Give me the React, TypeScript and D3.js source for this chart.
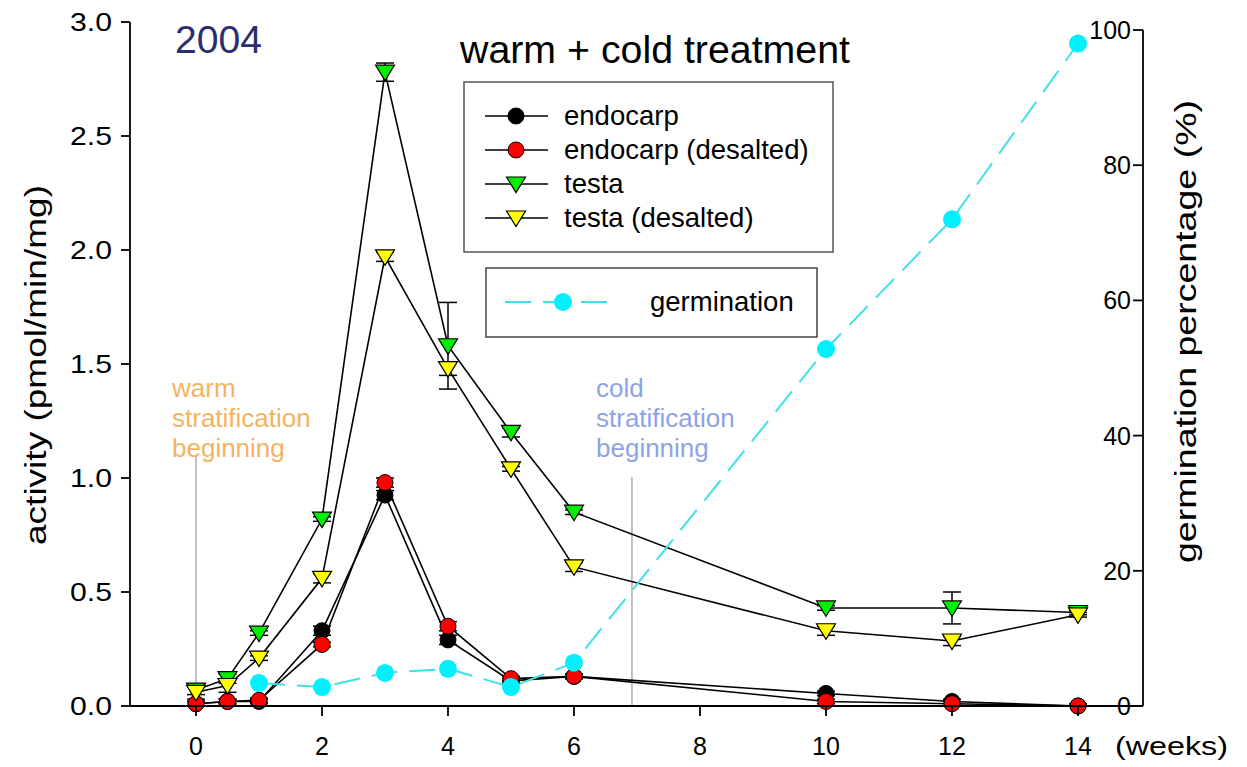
import React from "react";
import * as d3 from "d3";

const weeks = [0, 0.5, 1, 2, 3, 4, 5, 6, 10, 12, 14];
const endocarp = [0.01, 0.02, 0.02, 0.33, 0.925, 0.29, 0.11, 0.13, 0.055, 0.02, 0.0];
const endocarpErr = [0.01, 0.01, 0.01, 0.02, 0.02, 0.02, 0.01, 0.01, 0.01, 0.01, 0.01];
const endocarpDesalted = [0.01, 0.02, 0.025, 0.27, 0.98, 0.35, 0.12, 0.13, 0.02, 0.01, 0.0];
const endocarpDesaltedErr = [0.01, 0.01, 0.01, 0.01, 0.02, 0.02, 0.01, 0.01, 0.01, 0.01, 0.01];
const testa = [0.07, 0.12, 0.32, 0.82, 2.78, 1.58, 1.2, 0.85, 0.43, 0.43, 0.41];
const testaErr = [0.02, 0.02, 0.01, 0.01, 0.04, 0.19, 0.02, 0.01, 0.01, 0.07, 0.01];
const testaDesalted = [0.06, 0.09, 0.21, 0.56, 1.97, 1.48, 1.04, 0.61, 0.33, 0.285, 0.40];
const testaDesaltedErr = [0.03, 0.03, 0.01, 0.02, 0.02, 0.03, 0.01, 0.02, 0.02, 0.02, 0.01];
const germWeeks = [1, 2, 3, 4, 5, 6, 10, 12, 14];
const germination = [3.4, 2.8, 4.9, 5.5, 2.8, 6.4, 52.8, 72, 98];

const xTicks = [0, 2, 4, 6, 8, 10, 12, 14];
const yLeftTicks = [0, 0.5, 1.0, 1.5, 2.0, 2.5, 3.0];
const yRightTicks = [0, 20, 40, 60, 80, 100];

const FONT = "'Liberation Sans', Arial, sans-serif";

export default function App() {
  const x = d3.scaleLinear().domain([0, 14]).range([196, 1078]);
  const yL = d3.scaleLinear().domain([0, 3]).range([706, 22]);
  const yR = d3.scaleLinear().domain([0, 100]).range([706, 30]);
  const line = d3
    .line<[number, number]>()
    .x((d) => x(d[0]))
    .y((d) => yL(d[1]));
  const gLine = d3
    .line<[number, number]>()
    .x((d) => x(d[0]))
    .y((d) => yR(d[1]));

  const tri = (cx: number, cy: number, fill: string, key: string) => (
    <path
      key={key}
      d={`M${cx - 9.5},${cy - 7}L${cx + 9.5},${cy - 7}L${cx},${cy + 8.5}Z`}
      fill={fill}
      stroke="#000"
      strokeWidth={1.2}
    />
  );
  const circ = (cx: number, cy: number, fill: string, key: string) => (
    <circle key={key} cx={cx} cy={cy} r={8} fill={fill} stroke="#000" strokeWidth={1} />
  );

  const errBars = (vals: number[], errs: number[], key: string) =>
    vals.map((v, i) => {
      const cx = x(weeks[i]);
      const y1 = yL(v + errs[i]);
      const y2 = yL(Math.max(0, v - errs[i]));
      return (
        <g key={key + i} stroke="#000" strokeWidth={1.5}>
          <line x1={cx} x2={cx} y1={y1} y2={y2} />
          <line x1={cx - 9} x2={cx + 9} y1={y1} y2={y1} />
          <line x1={cx - 9} x2={cx + 9} y1={y2} y2={y2} />
        </g>
      );
    });

  const series = [
    { vals: endocarp, errs: endocarpErr, fill: "#000000", shape: "c", name: "endocarp" },
    { vals: endocarpDesalted, errs: endocarpDesaltedErr, fill: "#ff0000", shape: "c", name: "endocarp (desalted)" },
    { vals: testa, errs: testaErr, fill: "#00ee00", shape: "t", name: "testa" },
    { vals: testaDesalted, errs: testaDesaltedErr, fill: "#ffff00", shape: "t", name: "testa (desalted)" },
  ];

  const orange = "#f5b35f";
  const blue = "#8ea3e3";

  return (
    <svg
      width={1247}
      height={767}
      style={{ position: "absolute", left: 0, top: 0, background: "#fff" }}
      fontFamily={FONT}
    >
      <rect x={0} y={0} width={1247} height={767} fill="#fff" />

      {/* vertical markers */}
      <line x1={x(0)} x2={x(0)} y1={455} y2={706} stroke="#999" strokeWidth={1.2} />
      <line x1={x(6.92)} x2={x(6.92)} y1={477} y2={706} stroke="#999" strokeWidth={1.2} />

      {/* annotations */}
      <g fontSize={26} fill={orange}>
        <text x={172} y={397}>warm</text>
        <text x={172} y={427}>stratification</text>
        <text x={172} y={457}>beginning</text>
      </g>
      <g fontSize={26} fill={blue}>
        <text x={596} y={397}>cold</text>
        <text x={596} y={427}>stratification</text>
        <text x={596} y={457}>beginning</text>
      </g>

      {/* series lines */}
      {series.map((s) => (
        <path
          key={"l" + s.name}
          d={line(weeks.map((w, i) => [w, s.vals[i]] as [number, number])) || ""}
          fill="none"
          stroke="#000"
          strokeWidth={1.6}
        />
      ))}
      {series.map((s) => errBars(s.vals, s.errs, "e" + s.name))}
      {series.map((s) =>
        s.vals.map((v, i) =>
          s.shape === "c"
            ? circ(x(weeks[i]), yL(v), s.fill, s.name + i)
            : tri(x(weeks[i]), yL(v), s.fill, s.name + i)
        )
      )}

      {/* germination */}
      <path
        d={gLine(germWeeks.map((w, i) => [w, germination[i]] as [number, number])) || ""}
        fill="none"
        stroke="#3fe0e8"
        strokeWidth={2}
        strokeDasharray="26,12"
      />
      {germination.map((g, i) => (
        <circle key={"g" + i} cx={x(germWeeks[i])} cy={yR(g)} r={9} fill="#00f0ff" />
      ))}

      {/* axes */}
      <g stroke="#000" strokeWidth={1.8}>
        <line x1={130} x2={130} y1={22} y2={706} />
        <line x1={130} x2={1143} y1={706} y2={706} />
        <line x1={1143} x2={1143} y1={30} y2={706} />
        {yLeftTicks.map((t) => (
          <line key={"lt" + t} x1={121} x2={130} y1={yL(t)} y2={yL(t)} />
        ))}
        {xTicks.map((t) => (
          <line key={"xt" + t} x1={x(t)} x2={x(t)} y1={706} y2={716} />
        ))}
        {yRightTicks.map((t) => (
          <line key={"rt" + t} x1={1133} x2={1143} y1={yR(t)} y2={yR(t)} />
        ))}
      </g>
      <g fontSize={25} fill="#000">
        {yLeftTicks.map((t) => (
          <text
            key={"ll" + t}
            x={70}
            y={yL(t) + 9}
            textLength={42}
            lengthAdjust="spacingAndGlyphs"
          >
            {d3.format(".1f")(t)}
          </text>
        ))}
        {xTicks.map((t) => (
          <text key={"xl" + t} x={x(t)} y={755} textAnchor="middle">
            {t}
          </text>
        ))}
        {yRightTicks.map((t) => (
          <text key={"rl" + t} x={1131} y={yR(t) + 9} textAnchor="end">
            {t}
          </text>
        ))}
        <text x={1115} y={755} textLength={113} lengthAdjust="spacingAndGlyphs">
          (weeks)
        </text>
      </g>
      <g fontSize={29} fill="#000">
        <text
          transform="translate(46,545) rotate(-90)"
          textLength={360}
          lengthAdjust="spacingAndGlyphs"
        >
          activity (pmol/min/mg)
        </text>
        <text
          transform="translate(1196,563) rotate(-90)"
          textLength={463}
          lengthAdjust="spacingAndGlyphs"
        >
          germination percentage (%)
        </text>
      </g>

      {/* titles */}
      <text x={175} y={53} fontSize={38} fill="#2b2d6e" textLength={87} lengthAdjust="spacingAndGlyphs">
        2004
      </text>
      <text x={460} y={63} fontSize={38} fill="#000" textLength={390} lengthAdjust="spacingAndGlyphs">
        warm + cold treatment
      </text>

      {/* legend 1 */}
      <rect x={464} y={82} width={369} height={170} fill="#fff" stroke="#555" strokeWidth={1.5} />
      {series.map((s, i) => {
        const cy = 116 + i * 34;
        return (
          <g key={"leg" + i}>
            <line x1={485} x2={548} y1={cy} y2={cy} stroke="#000" strokeWidth={1.6} />
            {s.shape === "c" ? circ(516, cy, s.fill, "lc" + i) : tri(516, cy, s.fill, "lt" + i)}
            <text x={564} y={cy + 9} fontSize={27.5} fill="#000">
              {s.name}
            </text>
          </g>
        );
      })}

      {/* legend 2 */}
      <rect x={486} y={268} width={331} height={69} fill="#fff" stroke="#444" strokeWidth={1.5} />
      <line x1={505} x2={610} y1={302} y2={302} stroke="#3fe0e8" strokeWidth={2} strokeDasharray="26,12" />
      <circle cx={563} cy={302} r={9} fill="#00f0ff" />
      <text x={650} y={311} fontSize={27.5} fill="#000">germination</text>
    </svg>
  );
}
